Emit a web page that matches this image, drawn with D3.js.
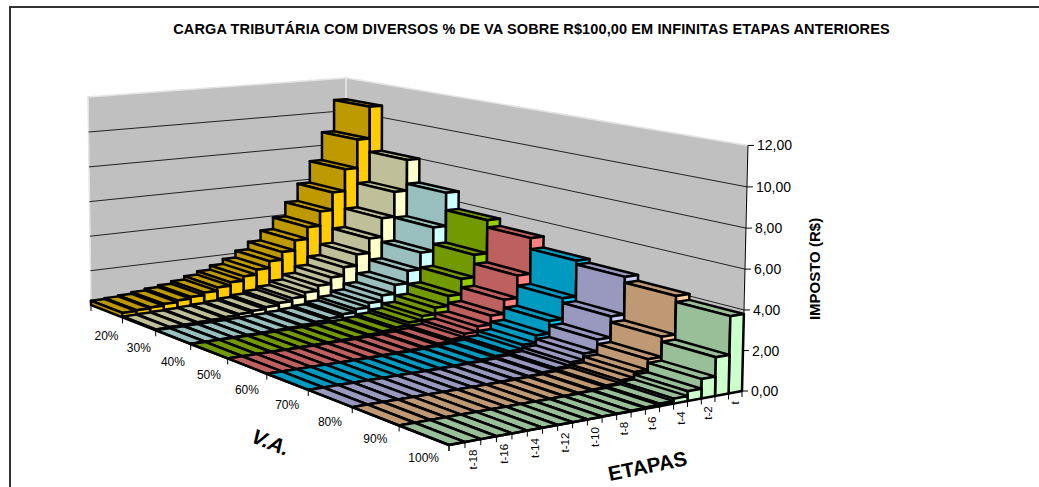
<!DOCTYPE html>
<html>
<head>
<meta charset="utf-8">
<script src="https://cdn.jsdelivr.net/npm/d3@7"></script>
<style>
    html, body { margin: 0; background: #fff; }
    text { font-family: "Liberation Sans", Arial, sans-serif; fill: #000; }
</style>
</head>
<body>
<svg id="chart"></svg>
<script>
const etapas = ['t-19','t-18','t-17','t-16','t-15','t-14','t-13','t-12','t-11','t-10','t-9','t-8','t-7','t-6','t-5','t-4','t-3','t-2','t-1','t']
const etapaLabels = ['t-18','t-16','t-14','t-12','t-10','t-8','t-6','t-4','t-2','t']
const faixas = ['20%','30%','40%','50%','60%','70%','80%','90%','100%']
const yTicks = [0,2,4,6,8,10,12]

const va20 = [0.25,0.3,0.35,0.45,0.55,0.65,0.8,1.0,1.2,1.45,1.75,2.15,2.6,3.2,3.9,4.75,5.8,7.1,8.8,10.7]
const va30 = [0.05,0.07,0.09,0.12,0.15,0.2,0.26,0.34,0.45,0.58,0.75,0.98,1.28,1.66,2.15,2.8,3.65,4.75,6.2,8.0]
const va40 = [0.01,0.01,0.02,0.03,0.04,0.06,0.08,0.11,0.16,0.22,0.31,0.44,0.62,0.87,1.2,1.7,2.4,3.35,4.7,6.6]
const va50 = [0,0,0,0.01,0.01,0.02,0.03,0.05,0.07,0.1,0.15,0.22,0.33,0.49,0.74,1.1,1.65,2.5,3.75,5.6]
const va60 = [0,0,0,0,0,0,0.01,0.02,0.03,0.05,0.07,0.12,0.19,0.31,0.5,0.79,1.27,2.03,3.25,5.2]
const va70 = [0,0,0,0,0,0,0,0,0.01,0.02,0.04,0.065,0.11,0.19,0.32,0.55,0.94,1.6,2.7,4.6]
const va80 = [0,0,0,0,0,0,0,0,0,0.01,0.02,0.04,0.07,0.13,0.23,0.42,0.75,1.36,2.45,4.4]
const va90 = [0,0,0,0,0,0,0,0,0,0,0.01,0.025,0.05,0.09,0.17,0.31,0.6,1.13,2.15,4.1]
const va100 = [0,0,0,0,0,0,0,0,0,0,0.01,0.015,0.03,0.06,0.12,0.24,0.48,0.95,1.9,3.8]
const valores = [va20,va30,va40,va50,va60,va70,va80,va90,va100]

const coresFrente = ['#BF9900','#BFBF99','#99BFBF','#739900','#BF6060','#0099BF','#9999BF','#BF9973','#99BF99']
const coresLado = ['#FFCC00','#FFFFCC','#CCFFFF','#99CC00','#FF8080','#00CCFF','#CCCCFF','#FFCC99','#CCFFCC']

const width = 1039
const height = 487

// cantos do piso e do topo das paredes
const A = [91,305], F = [449,445], R = [742,391], B = [346,272]
const topA = [88,97], topR = [748,143]

// homografia do piso (z = faixa, x = etapa) + ponto de fuga vertical
const dx1 = F[0]-R[0], dx2 = B[0]-R[0], sx = A[0]-F[0]+R[0]-B[0]
const dy1 = F[1]-R[1], dy2 = B[1]-R[1], sy = A[1]-F[1]+R[1]-B[1]
const den = dx1*dy2 - dx2*dy1
const g = (sx*dy2 - dx2*sy)/den
const h = (dx1*sy - sx*dy1)/den
const a = F[0]-A[0]+g*F[0], b = B[0]-A[0]+h*B[0]
const d = F[1]-A[1]+g*F[1], e = B[1]-A[1]+h*B[1]

const slopeL = (topA[0]-A[0])/(topA[1]-A[1])
const slopeR = (topR[0]-R[0])/(topR[1]-R[1])
const vy = (R[0]-A[0]+slopeL*A[1]-slopeR*R[1])/(slopeL-slopeR)
const vx = A[0]+slopeL*(vy-A[1])
const rr = (A[1]-topA[1])/(topA[1]-vy)

function project(x, z, v) {
    const t = yScale(v)
    const w = g*z + h*x + 1 + rr*t
    return [(a*z + b*x + A[0] + rr*vx*t)/w, (d*z + e*x + A[1] + rr*vy*t)/w]
}

const xScale = d3.scaleBand().domain(etapas).range([0,1])
const zScale = d3.scaleBand().domain(faixas).range([0,1])
const yScale = d3.scaleLinear().domain([0,12]).range([0,1])

const svg = d3.select('#chart').attr('width', width).attr('height', height).attr('viewBox', [0,0,width,height].join(' '))
const line = d3.line()

svg.append('path').attr('d', 'M10,487V7H1039').attr('fill', 'none').attr('stroke', '#333').attr('stroke-width', 2)

svg.append('text').attr('x', 531.5).attr('y', 34).attr('text-anchor', 'middle')
    .attr('font-size', 14.5).attr('font-weight', 'bold').attr('letter-spacing', 0.12)
    .text('CARGA TRIBUTÁRIA COM DIVERSOS % DE VA SOBRE R$100,00 EM INFINITAS ETAPAS ANTERIORES')

// paredes
const walls = svg.append('g').attr('fill', '#C0C0C0').attr('stroke', '#e4e4e4').attr('stroke-width', 1.5)
walls.append('path').attr('d', line([project(0,0,0),project(1,0,0),project(1,0,12),project(0,0,12)])+'Z')
walls.append('path').attr('d', line([project(1,0,0),project(1,1,0),project(1,1,12),project(1,0,12)])+'Z')

const grid = svg.append('g').attr('fill', 'none').attr('stroke', '#222')
yTicks.slice(1,-1).forEach(v => {
    grid.append('path').attr('d', line([project(0,0,v),project(1,0,v),project(1,1,v)]))
})

// eixo vertical
const axisY = svg.append('g').attr('stroke', '#000').attr('fill', 'none')
axisY.append('path').attr('d', line([project(1,1,0),project(1,1,12)]))
yTicks.forEach(v => {
    const p = project(1,1,v)
    axisY.append('path').attr('d', `M${p[0]},${p[1]}h6`)
    svg.append('text').attr('x', p[0]+9).attr('y', p[1]+5).attr('font-size', 14)
        .text(v.toFixed(2).replace('.', ','))
})

// barras, de tras para a frente
const bars = svg.append('g').attr('stroke', '#000').attr('stroke-width', 2.5).attr('stroke-linejoin', 'round')
faixas.forEach((fx, i) => {
    const z0 = zScale(fx), z1 = z0 + zScale.bandwidth()
    for (let j = etapas.length-1; j >= 0; j--) {
        const x0 = xScale(etapas[j]), x1 = x0 + xScale.bandwidth()
        const v = valores[i][j]
        bars.append('path').attr('fill', coresFrente[i])
            .attr('d', line([project(x0,z0,v),project(x1,z0,v),project(x1,z1,v),project(x0,z1,v)])+'Z')
        bars.append('path').attr('fill', coresFrente[i])
            .attr('d', line([project(x0,z0,0),project(x0,z1,0),project(x0,z1,v),project(x0,z0,v)])+'Z')
        bars.append('path').attr('fill', coresLado[i])
            .attr('d', line([project(x0,z1,0),project(x1,z1,0),project(x1,z1,v),project(x0,z1,v)])+'Z')
    }
})

// eixo das faixas
const axisZ = svg.append('g').attr('stroke', '#000').attr('fill', 'none')
faixas.concat(['']).forEach((fx, i) => {
    const z = i/faixas.length
    const p = project(0,z,0)
    axisZ.append('path').attr('d', `M${p[0]},${p[1]}v6`)
})
const labelGap = d3.scaleLinear().domain([0,faixas.length-1]).range([25,23])
faixas.forEach((fx, i) => {
    const p = project(0, zScale(fx)+zScale.bandwidth()/2, 0)
    svg.append('text').attr('x', p[0]).attr('y', p[1]+labelGap(i)+4).attr('text-anchor', 'middle')
        .attr('font-size', 12).text(fx)
})

// eixo das etapas
const axisX = svg.append('g').attr('stroke', '#000').attr('fill', 'none')
etapas.concat(['']).forEach((et, j) => {
    const p = project(j/etapas.length,1,0)
    axisX.append('path').attr('d', `M${p[0]},${p[1]}v6`)
})
etapaLabels.forEach(et => {
    const p = project(xScale(et)+xScale.bandwidth()/2, 1, 0)
    svg.append('text').attr('transform', `translate(${p[0]+4},${p[1]+9}) rotate(-90)`)
        .attr('text-anchor', 'end').attr('font-size', 11.5).text(et)
})

svg.append('text').attr('transform', 'translate(820,269) rotate(-90)').attr('text-anchor', 'middle')
    .attr('font-size', 15).attr('font-weight', 'bold').text('IMPOSTO (R$)')
svg.append('text').attr('transform', 'translate(268,449) rotate(22)').attr('text-anchor', 'middle')
    .attr('font-size', 21).attr('font-weight', 'bold').attr('font-style', 'italic').text('V.A.')
svg.append('text').attr('transform', 'translate(649,473) rotate(-11.5)').attr('text-anchor', 'middle')
    .attr('font-size', 20.5).attr('font-weight', 'bold').text('ETAPAS')
</script>
</body>
</html>
